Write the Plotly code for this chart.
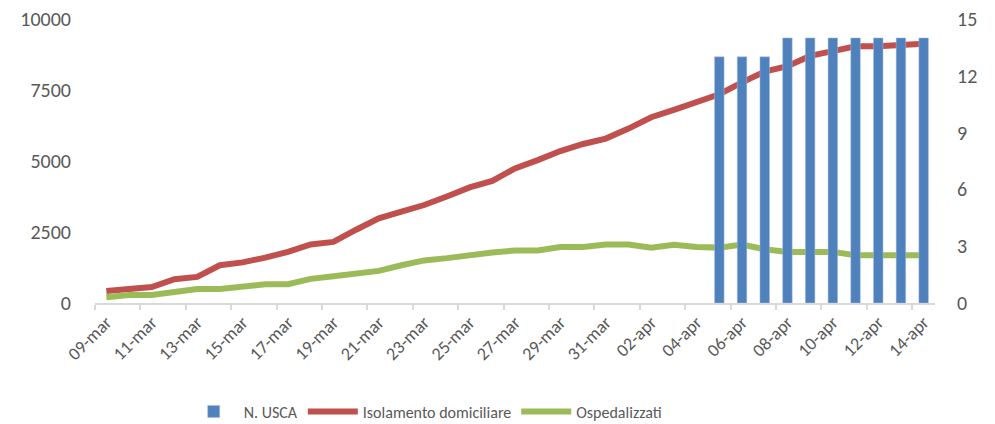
import plotly.graph_objects as go

dates = ["09-mar", "10-mar", "11-mar", "12-mar", "13-mar", "14-mar", "15-mar", "16-mar",
         "17-mar", "18-mar", "19-mar", "20-mar", "21-mar", "22-mar", "23-mar", "24-mar",
         "25-mar", "26-mar", "27-mar", "28-mar", "29-mar", "30-mar", "31-mar", "01-apr",
         "02-apr", "03-apr", "04-apr", "05-apr", "06-apr", "07-apr", "08-apr", "09-apr",
         "10-apr", "11-apr", "12-apr", "13-apr", "14-apr"]

n_usca = [None] * 27 + [13, 13, 13, 14, 14, 14, 14, 14, 14, 14, 14]

isolamento = [420, 480, 560, 840, 920, 1330, 1430, 1600, 1800, 2060, 2150, 2580, 2980,
              3220, 3450, 3750, 4070, 4300, 4740, 5030, 5350, 5600, 5790, 6140, 6540,
              6800, 7100, 7350, 7770, 8150, 8340, 8700, 8870, 9040, 9040, 9100, 9130]

ospedalizzati = [200, 280, 280, 400, 490, 490, 580, 660, 660, 850, 940, 1020, 1130,
                 1330, 1500, 1580, 1690, 1780, 1850, 1850, 1970, 1970, 2060, 2060, 1950,
                 2050, 1970, 1950, 2060, 1890, 1800, 1800, 1800, 1680, 1680, 1680, 1680]

left_ticks = [0, 2500, 5000, 7500, 10000]
left_ticktext = ["0", "2500", "5000", "7500", "10000"]
right_ticks = [0, 3, 6, 9, 12, 15]

x = list(range(len(dates)))
label_idx = x[::2]

FONT = "Carlito, Calibri, Lato, sans-serif"
GREY = "#595959"

fig = go.Figure()
fig.add_trace(go.Bar(x=x, y=n_usca, name="N. USCA", yaxis="y2", width=0.42,
                     marker=dict(color="#4f81bd", line=dict(width=0.5, color="#a7bfde"))))
fig.add_trace(go.Scatter(x=x, y=isolamento, name="Isolamento domiciliare", mode="lines",
                         line=dict(color="#c0504d", width=6)))
fig.add_trace(go.Scatter(x=x, y=ospedalizzati, name="Ospedalizzati", mode="lines",
                         line=dict(color="#9bbb59", width=6)))

# The page body has an 8px default margin, so the figure is sized to fit the window.
fig.update_layout(
    width=987, height=416,
    margin=dict(l=87, r=60, t=11, b=121, autoexpand=False),
    plot_bgcolor="white", paper_bgcolor="white",
    font=dict(family=FONT, color=GREY, size=16),
    showlegend=True,
    legend=dict(orientation="h", xref="container", yref="container",
                x=0.178, xanchor="left", y=0.03, yanchor="middle",
                font=dict(size=16, color=GREY), traceorder="normal",
                itemwidth=50, tracegroupgap=0),
    bargap=0.6,
    xaxis=dict(
        range=[-0.5, len(dates) - 0.5], automargin=False,
        tickmode="array", tickvals=label_idx, ticktext=[dates[i] for i in label_idx],
        tickangle=-45, ticks="", showgrid=False, zeroline=False,
        showline=True, linecolor="#d9d9d9", linewidth=1.5,
        tickfont=dict(size=18, color=GREY), ticklabeloverflow="allow",
        minor=dict(tickmode="array", tickvals=[i - 0.5 for i in range(0, len(dates) + 1, 2)],
                   ticks="outside", ticklen=5, tickcolor="#d9d9d9", tickwidth=1.5, showgrid=False),
    ),
    yaxis=dict(
        range=[0, 10000], tickmode="array", tickvals=left_ticks, ticktext=left_ticktext,
        showgrid=False, zeroline=False, showline=False, ticks="", automargin=False,
        tickfont=dict(size=20, color=GREY), ticklabelstandoff=23, ticklabeloverflow="allow",
    ),
    yaxis2=dict(
        range=[0, 15], tickmode="array", tickvals=right_ticks, overlaying="y", side="right",
        showgrid=False, zeroline=False, showline=False, ticks="", automargin=False,
        tickfont=dict(size=20, color=GREY), ticklabelstandoff=21, ticklabeloverflow="allow",
    ),
)

fig.write_html("out.html")
